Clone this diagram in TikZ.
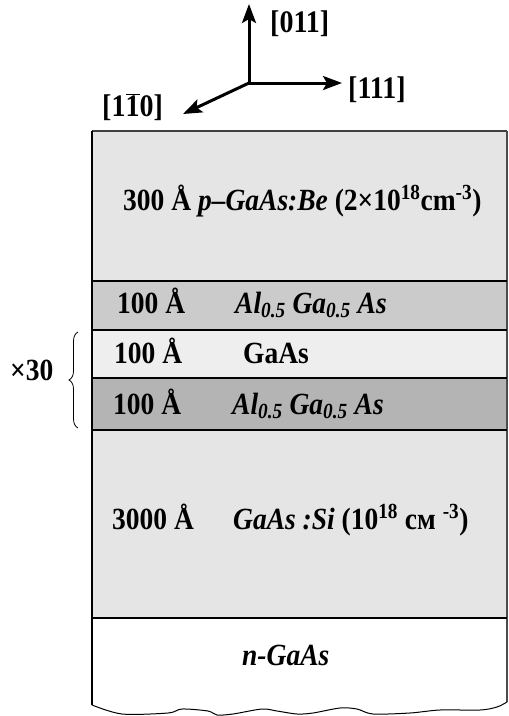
\documentclass[tikz,border=0pt]{standalone}
\usepackage{fontspec}
\usepackage{graphicx}
\setmainfont{Liberation Serif}
\usetikzlibrary{arrows.meta,decorations.pathreplacing}
\definecolor{gA}{HTML}{E5E5E5}
\definecolor{gB}{HTML}{CBCBCB}
\definecolor{gC}{HTML}{EEEEEE}
\definecolor{gD}{HTML}{B4B4B4}
\newcommand{\tallt}[1]{\scalebox{1}[1.12]{#1}}
\begin{document}
\begin{tikzpicture}[x=1pt,y=-1pt,
  lbl/.style={inner sep=0pt, anchor=base west, font=\fontsize{27.5}{32}\selectfont\bfseries},
  axl/.style={inner sep=0pt, anchor=base west, font=\fontsize{28}{33}\selectfont\bfseries},
  axarrow/.style={line width=3pt, -{Stealth[length=19pt,width=14pt,inset=4pt]}},
  sepline/.style={line width=2.6pt},
  border/.style={line width=2.6pt}]
\useasboundingbox (0,0) rectangle (509,716);
% fills
\fill[gA] (92,131) rectangle (507,281);
\fill[gB] (92,281) rectangle (507,330);
\fill[gC] (92,330) rectangle (507,378);
\fill[gD] (92,378) rectangle (507,430);
\fill[gA] (92,430) rectangle (507,618);
% borders
\draw[line width=2pt,black!75] (92,131) -- (507,131);
\draw[line width=1.4pt,black!70] (507,131) -- (507,702);
\draw[border] (92,131) -- (92,705);
\foreach \yy in {281,330,378,430,618} \draw[sepline] (92,\yy) -- (507,\yy);
\draw[line width=1pt] plot[smooth, tension=0.5] coordinates {(92,705) (122,714) (168,713) (182,709) (208,711) (217,715) (233,714) (262,709) (277,711) (297,714) (313,713) (340,708) (357,709) (373,714) (410,713) (440,710) (480,710) (497,707) (507,702)};
% layer texts
\node[lbl] (t1) at (123,210) {\tallt{300 Å \textit{p–GaAs:Be} (2×10\textsuperscript{18}cm\textsuperscript{-3})}};
\node[lbl] (t2a) at (117,313) {\tallt{100 Å}};
\node[lbl] (t2b) at (235,313) {\tallt{\textit{Al\textsubscript{0.5} Ga\textsubscript{0.5} As}}};
\node[lbl] (t3a) at (114,363) {\tallt{100 Å}};
\node[lbl] (t3b) at (243,363) {\tallt{GaAs}};
\node[lbl] (t4a) at (113,414) {\tallt{100 Å}};
\node[lbl] (t4b) at (232,414) {\tallt{\textit{Al\textsubscript{0.5} Ga\textsubscript{0.5} As}}};
\node[lbl] (t5a) at (112,529) {\tallt{3000 Å}};
\node[lbl] (t5b) at (233,529) {\tallt{\textit{GaAs :Si} (10\textsuperscript{18} см \textsuperscript{-3})}};
\node[lbl] (t6) at (242,665) {\tallt{\textit{n-GaAs}}};
% brace
\node[lbl] (x30) at (10,380) {\tallt{×30}};
\coordinate (bb) at (78,428);
\coordinate (bt) at (78,332);
\draw[line width=0.8pt, decorate, decoration={brace, amplitude=9pt}] (bb) -- (bt);
% axes
\coordinate (o) at (249,83);
\coordinate (up) at (249,4);
\coordinate (rt) at (342,83);
\coordinate (dl) at (183,114);
\draw[axarrow] (o) -- (up);
\draw[axarrow] (o) -- (rt);
\draw[axarrow] (o) -- (dl);
\node[axl] (l011) at (270,32) {\tallt{[011]}};
\node[axl] (l111) at (348,98) {\tallt{[111]}};
\node[axl] (l1b10) at (102,116) {\tallt{[1$\overline{\mbox{1}}$0]}};
\end{tikzpicture}
\end{document}
